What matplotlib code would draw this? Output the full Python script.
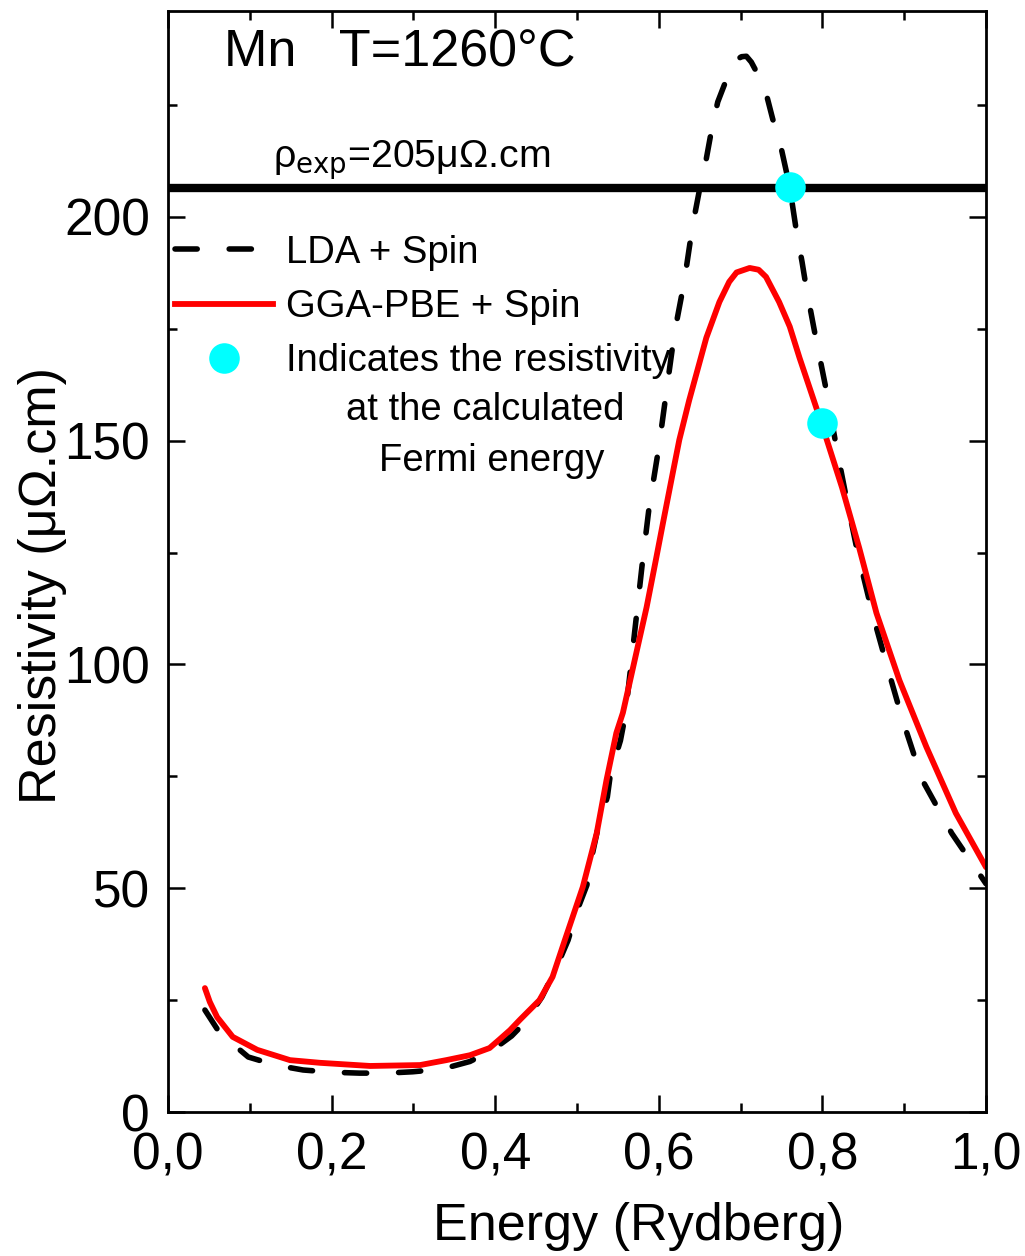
import matplotlib
matplotlib.use("Agg")
import matplotlib.pyplot as plt
from matplotlib.lines import Line2D
from matplotlib.ticker import MultipleLocator, FuncFormatter

plt.rcParams['font.family'] = ['Liberation Sans', 'DejaVu Sans']
plt.rcParams['lines.scale_dashes'] = False

# LDA + Spin (dashed black)
lda_e = [0.045, 0.063, 0.098, 0.131, 0.165, 0.200, 0.234, 0.267, 0.299, 0.335,
         0.369, 0.397, 0.420, 0.436, 0.457, 0.475, 0.489, 0.500, 0.512, 0.519,
         0.525, 0.537, 0.541, 0.553, 0.559, 0.573, 0.580, 0.588, 0.600, 0.609,
         0.619, 0.631, 0.641, 0.652, 0.658, 0.665, 0.672, 0.687, 0.694, 0.701,
         0.707, 0.713, 0.722, 0.731, 0.739, 0.750, 0.760, 0.768, 0.775, 0.780,
         0.790, 0.805, 0.817, 0.829, 0.843, 0.861, 0.878, 0.898, 0.922, 0.958, 1.000]
lda_rho = [22.8, 17.7, 12.3, 10.5, 9.4, 8.9, 8.7, 8.7, 9.0, 9.6,
           11.3, 13.9, 17.0, 20.0, 25.7, 32.4, 38.4, 45.0, 50.7, 57.9,
           63.0, 70.4, 75.8, 83.0, 88.7, 111.5, 123.0, 135.0, 148.6, 160.7,
           174.0, 185.5, 197.8, 208.3, 213.0, 220.0, 225.7, 232.8, 235.0, 235.8,
           235.9, 234.6, 231.5, 227.7, 222.0, 215.0, 206.7, 197.0, 190.0, 184.4,
           174.7, 161.0, 148.6, 137.4, 125.0, 111.5, 100.3, 87.6, 74.2, 62.3, 51.0]

# GGA-PBE + Spin (solid red)
gga_e = [0.045, 0.051, 0.060, 0.079, 0.109, 0.149, 0.186, 0.247, 0.308, 0.340,
         0.369, 0.393, 0.405, 0.418, 0.430, 0.454, 0.470, 0.485, 0.507, 0.524,
         0.536, 0.548, 0.556, 0.576, 0.585, 0.597, 0.605, 0.617, 0.625, 0.637,
         0.646, 0.658, 0.674, 0.686, 0.695, 0.711, 0.722, 0.731, 0.747, 0.760,
         0.772, 0.788, 0.799, 0.824, 0.845, 0.866, 0.894, 0.927, 0.963, 1.000]
gga_rho = [27.7, 24.6, 21.2, 16.8, 13.9, 11.6, 11.0, 10.3, 10.5, 11.6,
           12.7, 14.3, 16.2, 18.3, 20.6, 25.0, 30.2, 38.4, 50.3, 62.3,
           74.2, 84.7, 89.2, 105.5, 112.8, 124.0, 131.6, 142.8, 150.2, 159.0,
           165.0, 173.0, 181.0, 185.5, 187.6, 188.6, 188.2, 186.6, 181.0, 175.5,
           168.5, 159.8, 153.8, 139.5, 126.0, 111.5, 96.5, 81.6, 66.8, 54.7]

# resistivity at calculated Fermi energy
fermi_e = [0.76, 0.80]
fermi_rho = [206.7, 154.0]

rho_exp = 206.5

fig = plt.figure(figsize=(10.25, 12.56), dpi=100)
ax = fig.add_axes([0.164, 0.1146, 0.798, 0.8766])

ax.plot([0, 1], [rho_exp, rho_exp], color='black', lw=6, solid_capstyle='round')
ax.plot(lda_e, lda_rho, color='black', lw=4, dashes=(16, 23),
        dash_capstyle='round', dash_joinstyle='round', label='LDA + Spin')
ax.plot(gga_e, gga_rho, color='red', lw=4.2, solid_joinstyle='round',
        solid_capstyle='round', label='GGA-PBE + Spin')
ax.plot(fermi_e, fermi_rho, 'o', color='cyan', ms=22, mec='none', zorder=5)

ax.set_xlim(0, 1.0)
ax.set_ylim(0, 246)
ax.xaxis.set_major_locator(MultipleLocator(0.2))
ax.xaxis.set_minor_locator(MultipleLocator(0.1))
ax.yaxis.set_major_locator(MultipleLocator(50))
ax.yaxis.set_minor_locator(MultipleLocator(25))
ax.xaxis.set_major_formatter(FuncFormatter(lambda v, p: f"{v:.1f}".replace('.', ',')))
ax.tick_params(which='both', direction='in', top=True, right=True, width=1.8,
               labelsize=37)
ax.tick_params(which='major', length=12)
ax.tick_params(which='minor', length=6.5)
ax.tick_params(axis='x', which='major', pad=14)
ax.tick_params(axis='y', which='major', pad=13)
for s in ax.spines.values():
    s.set_linewidth(2)

ax.set_xlabel('Energy (Rydberg)', fontsize=37.5)
ax.set_ylabel('Resistivity (μΩ.cm)', fontsize=37.5)
ax.xaxis.set_label_coords(0.575, -0.082)
ax.yaxis.set_label_coords(-0.124, 0.478)

ax.text(0.068, 233.5, 'Mn   T=1260°C', fontsize=37.5, va='baseline')
ax.text(0.128, 211, r'ρ$_{\mathrm{exp}}$=205μΩ.cm', fontsize=28.3, va='baseline')

handles = [Line2D([], [], color='black', lw=4, dashes=(16, 23), dash_capstyle='round'),
           Line2D([], [], color='red', lw=4.2),
           Line2D([], [], ls='none', marker='o', color='cyan', ms=22, mec='none')]
labels = ['LDA + Spin', 'GGA-PBE + Spin', 'Indicates the resistivity']
leg = ax.legend(handles, labels, loc='upper left', bbox_to_anchor=(0.0086, 0.797),
                frameon=False, fontsize=27.5, borderpad=0, borderaxespad=0,
                handlelength=2.55, handletextpad=0.35, labelspacing=0.48,
                numpoints=1)
ax.text(0.388, 0.638, 'at the calculated', transform=ax.transAxes, fontsize=27.5,
        ha='center', va='center')
ax.text(0.395, 0.591, 'Fermi energy', transform=ax.transAxes, fontsize=27.5,
        ha='center', va='center')

fig.savefig('out.png', dpi=100)
